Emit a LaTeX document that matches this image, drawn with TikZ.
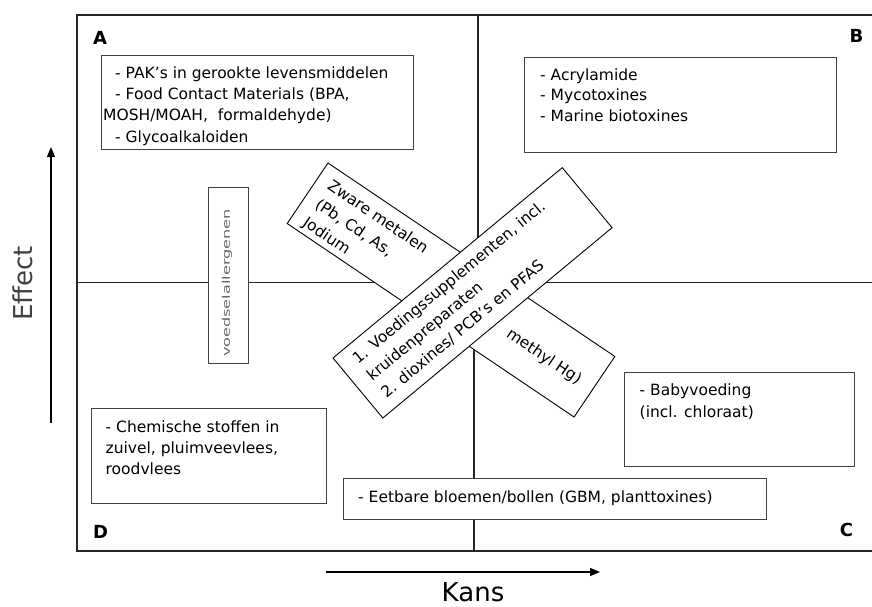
\documentclass[tikz,border=0pt]{standalone}
\usepackage{fontspec}
\setmainfont{DejaVu Sans}
\usepackage{graphicx}
\usetikzlibrary{arrows.meta}

% multi-line text nodes are placed by the baseline of their last line
\tikzset{
  frameline/.style={draw=black!85, line width=1.3pt},
  listbox/.style={draw=black!75, line width=1pt, fill=white},
  tiltbox/.style={draw=black, line width=0.9pt, fill=white},
  txt/.style={anchor=base west, inner sep=0pt, align=left},
  lines/.style={font=\fontsize{15.5}{#1}\selectfont},
  quad/.style={inner sep=0pt, font=\fontsize{18}{20}\selectfont\bfseries},
  axislabel/.style={inner sep=0pt, font=\fontsize{26}{30}\selectfont},
  axisarrow/.style={line width=1.2pt, -{Triangle[length=10pt,width=8pt]}},
}

\begin{document}
\begin{tikzpicture}[x=1pt,y=-1pt]
\useasboundingbox (0,0) rectangle (872,606);

% quadrant frame, open to the right
\begin{scope}
  \clip (0,0) rectangle (872,606);
  \draw[frameline] (880,15) -- (77,15) -- (77,551) -- (880,551);
  \draw[frameline] (478,15) -- (478,283);
  \draw[frameline] (474,283) -- (474,551);
  \draw[frameline] (77,282.5) -- (880,282.5);
\end{scope}

% quadrant letters
\node[quad] (qA) at (100,37.5) {A};
\node[quad] (qB) at (856.5,36) {B};
\node[quad] (qC) at (846.5,529.5) {C};
\node[quad] (qD) at (100.5,532) {D};

% list boxes
\draw[listbox] (101,55) rectangle (413,149);
\node[txt, lines=21.3] (boxA) at (103,142)
  {\hspace{12pt}- PAK’s in gerookte levensmiddelen\\
   \hspace{12pt}- Food Contact Materials (BPA,\\
   MOSH/MOAH,\ \ formaldehyde)\\
   \hspace{12pt}- Glycoalkaloiden};

\draw[listbox] (524,57) rectangle (836,152);
\node[txt, lines=20.5] (boxB) at (540,121)
  {- Acrylamide\\- Mycotoxines\\- Marine biotoxines};

\draw[listbox] (91,408) rectangle (326,503);
\node[txt, lines=21] (boxD) at (105.5,474)
  {- Chemische stoffen in\\zuivel, pluimveevlees,\\roodvlees};

\draw[listbox] (624,372) rectangle (854,466);
\node[txt, lines=21.5] (boxC) at (639.5,417)
  {- Babyvoeding\\(incl. chloraat)};

\draw[listbox] (343,478) rectangle (766,519);
\node[txt, lines=20] (boxE) at (358,502)
  {- Eetbare bloemen/bollen (GBM, planttoxines)};

% upright narrow box
\draw[listbox] (208,187) rectangle (248,363);
\node[rotate=90, inner sep=0pt, text=black!60] (voedsel) at (227,283)
  {\scalebox{1.55}[1]{\fontsize{10.4}{12}\selectfont voedselallergenen}};

% tilted box: heavy metals
\begin{scope}[shift={(328,163)}, rotate=-34]
  \draw[tiltbox] (0,0) rectangle (346,73);
  \node[txt, lines=22.2, transform shape] (zware) at (13,66.4)
    {Zware metalen\\(Pb, Cd, As,\\Jodium};
  \node[txt, lines=22.2, transform shape] (methyl) at (244,44.5) {methyl Hg)};
\end{scope}

% tilted box: supplements and dioxines
\begin{scope}[shift={(333,358)}, rotate=39.7]
  \draw[tiltbox] (0,0) rectangle (298,78);
  \node[txt, lines=22.3, transform shape] (suppl) at (15,65.6)
    {1. Voedingssupplementen, incl.\\kruidenpreparaten\\2. dioxines/ PCB’s en PFAS};
\end{scope}

% axes
\coordinate (effS) at (51,423);
\coordinate (effE) at (51,147);
\draw[axisarrow] (effS) -- (effE);
\node[axislabel, rotate=90, text=black!75] (effect) at (23,283.5) {Effect};

\coordinate (kansS) at (326,572);
\coordinate (kansE) at (600,572);
\draw[axisarrow] (kansS) -- (kansE);
\node[axislabel, anchor=base] (kans) at (473,601) {Kans};
\end{tikzpicture}
\end{document}
